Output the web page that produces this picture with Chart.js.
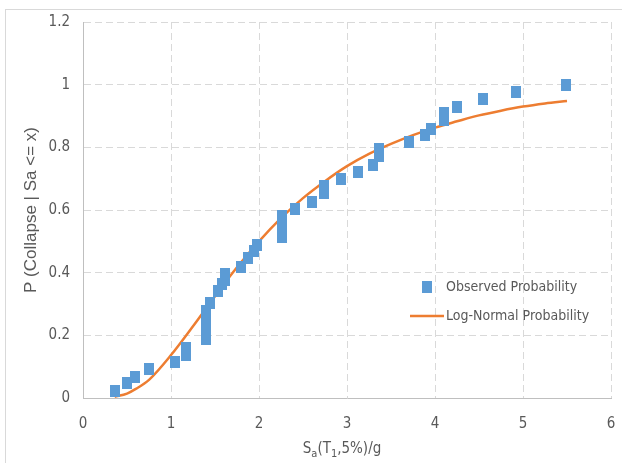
<!DOCTYPE html>
<html>
<head>
<meta charset="utf-8">
<script src="https://cdn.jsdelivr.net/npm/chart.js@4/dist/chart.umd.min.js"></script>
<style>
  html,body{margin:0;padding:0;background:#fff;}
  #wrap{position:relative;width:622px;height:463px;overflow:hidden;}
  #frame{position:absolute;left:5px;top:9px;width:640px;height:480px;border-top:1px solid #d9d9d9;border-left:1px solid #d9d9d9;}
  canvas{position:absolute;left:0;top:0;}
</style>
</head>
<body>
<div id="wrap">
  <div id="frame"></div>
  <canvas id="chart" width="622" height="463"></canvas>
</div>
<script>
// Data
const obsLabel = 'Observed Probability';
const obsX = [0.36, 0.50, 0.59, 0.75, 1.04, 1.17, 1.17, 1.40, 1.40, 1.40, 1.40, 1.40, 1.44, 1.53, 1.58, 1.61, 1.61,
              1.80, 1.87, 1.94, 1.98, 2.26, 2.26, 2.26, 2.26, 2.41, 2.60, 2.74, 2.74, 2.93, 3.13, 3.29, 3.36, 3.36,
              3.71, 3.89, 3.96, 4.10, 4.10, 4.25, 4.54, 4.92, 5.49];
const obsY = [0.022, 0.047, 0.068, 0.094, 0.115, 0.138, 0.160, 0.188, 0.210, 0.233, 0.256, 0.278, 0.304, 0.342, 0.365, 0.376, 0.396,
              0.418, 0.446, 0.470, 0.488, 0.514, 0.535, 0.558, 0.580, 0.603, 0.626, 0.655, 0.678, 0.700, 0.722, 0.745, 0.772, 0.795,
              0.817, 0.840, 0.859, 0.886, 0.909, 0.930, 0.955, 0.977, 1.000];

const fitLabel = 'Log-Normal Probability';
const fitX = [0.36, 0.50, 0.60, 0.75, 1.00, 1.25, 1.50, 1.75, 2.00, 2.25, 2.50, 2.75, 3.00, 3.25, 3.50, 3.75,
              4.00, 4.25, 4.50, 4.75, 5.00, 5.25, 5.50];
const fitY = [0.004, 0.014, 0.029, 0.058, 0.137, 0.229, 0.325, 0.417, 0.500, 0.574, 0.638, 0.692, 0.740, 0.779, 0.811, 0.839,
              0.863, 0.883, 0.902, 0.917, 0.930, 0.940, 0.948];

const xMin = 0, xMax = 6, xStep = 1;
const yMin = 0, yMax = 1.2, yStep = 0.2;
const xTitleParts = [['S', false], ['a', true], ['(T', false], ['1', true], [',5%)/g', false]];
const yTitle = 'P (Collapse | Sa <= x)';

// Styles
const BLUE = '#5b9bd5', ORANGE = '#ed7d31', TEXT = '#595959';
const NARROW = '"Liberation Sans Narrow", "DejaVu Sans Condensed", "Open Sans", sans-serif';

// square-ish excel marker
const marker = document.createElement('canvas');
marker.width = 10; marker.height = 12;
const mctx = marker.getContext('2d');
mctx.fillStyle = BLUE; mctx.fillRect(0, 0, 10, 12);

const decor = {
  id: 'decor',
  afterDraw(chart){
    const {ctx, chartArea: a} = chart;
    ctx.save();
    ctx.fillStyle = TEXT;
    ctx.textBaseline = 'middle';
    ctx.textAlign = 'left';
    ctx.font = '14px ' + NARROW;
    // legend inside plot
    ctx.drawImage(marker, 427 - 5, 287 - 6);
    ctx.fillText(chart.data.datasets[0].label, 446, 287);
    ctx.strokeStyle = ORANGE; ctx.lineWidth = 2.5;
    ctx.beginPath(); ctx.moveTo(410, 316); ctx.lineTo(444, 316); ctx.stroke();
    ctx.fillText(chart.data.datasets[1].label, 446, 316);

    // x title with subscripts
    ctx.textBaseline = 'alphabetic';
    const big = '15px ' + NARROW, small = '11px ' + NARROW;
    let w = 0;
    for (const [t, sub] of xTitleParts){ ctx.font = sub ? small : big; w += ctx.measureText(t).width; }
    let x = 342 - w / 2;
    for (const [t, sub] of xTitleParts){
      ctx.font = sub ? small : big;
      ctx.fillText(t, x, sub ? 457 : 453);
      x += ctx.measureText(t).width;
    }

    // y title
    ctx.translate(31, (a.top + a.bottom) / 2);
    ctx.rotate(-Math.PI / 2);
    ctx.textAlign = 'center';
    ctx.textBaseline = 'middle';
    ctx.font = '17px "Liberation Sans", "Open Sans", sans-serif';
    ctx.fillText(yTitle, 0, 0);
    ctx.restore();
  }
};

new Chart(document.getElementById('chart'), {
  type: 'scatter',
  data: {
    datasets: [
      {
        label: obsLabel,
        data: obsX.map((x, i) => ({x, y: obsY[i]})),
        pointStyle: marker,
        pointRadius: 6,
        pointHoverRadius: 6
      },
      {
        label: fitLabel,
        data: fitX.map((x, i) => ({x, y: fitY[i]})),
        showLine: true,
        borderColor: ORANGE,
        borderWidth: 2.5,
        pointRadius: 0,
        cubicInterpolationMode: 'monotone',
        fill: false
      }
    ]
  },
  options: {
    responsive: false,
    animation: false,
    devicePixelRatio: 1,
    layout: {autoPadding: false, padding: {top: 22, right: 11, bottom: 0, left: 0}},
    plugins: {legend: {display: false}, tooltip: {enabled: false}},
    scales: {
      x: {
        type: 'linear', min: xMin, max: xMax,
        afterFit(s){ s.height = 65; s.paddingLeft = 0; s.paddingRight = 0; },
        ticks: {stepSize: xStep, color: TEXT, font: {family: NARROW, size: 15}, padding: 17},
        grid: {color: '#d9d9d9', drawTicks: false, lineWidth: 1},
        border: {color: '#bfbfbf', width: 1, dash: [7, 4]}
      },
      y: {
        min: yMin, max: yMax,
        afterFit(s){ s.width = 83; s.paddingTop = 0; s.paddingBottom = 0; },
        ticks: {stepSize: yStep, color: TEXT, font: {family: NARROW, size: 15}, padding: 13,
                callback: v => String(+v.toFixed(1))},
        grid: {color: '#d9d9d9', drawTicks: false, lineWidth: 1},
        border: {color: '#bfbfbf', width: 1, dash: [7, 4]}
      }
    }
  },
  plugins: [decor]
});
</script>
</body>
</html>
